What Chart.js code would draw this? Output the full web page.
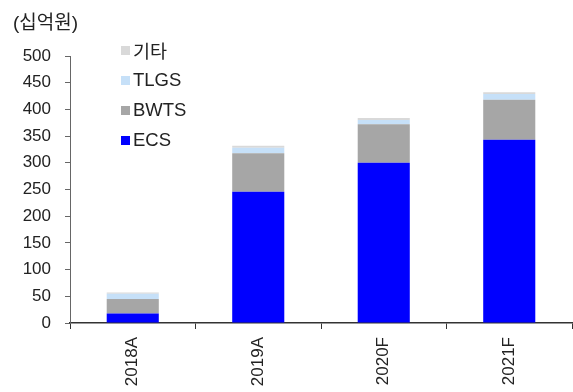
<!DOCTYPE html>
<html><head><meta charset="utf-8">
<script src="https://cdn.jsdelivr.net/npm/chart.js@4"></script>
<style>
html,body{margin:0;padding:0;background:#fff;}
#wrap{position:relative;width:573px;height:392px;font-family:"Liberation Sans","Noto Sans CJK KR",sans-serif;color:#222;}
canvas{position:absolute;left:0;top:0;}
#unit{position:absolute;left:13px;top:7px;font-size:19px;}
#legend{position:absolute;left:121px;top:35px;font-size:18.5px;}
.li{height:30px;display:flex;align-items:center;}
.sw{width:9px;height:9px;margin-right:3px;}
</style></head>
<body><div id="wrap"><canvas id="c" width="573" height="392"></canvas>
<div id="unit">(십억원)</div>
<div id="legend"></div></div>
<script>
const categories = ["2018A","2019A","2020F","2021F"];
const ecs  = [18, 246, 300, 343];
const bwts = [27, 72, 72, 75];
const tlgs = [10, 10, 8, 11];
const etc  = [2, 4, 4, 3];
const yTicks = [0,50,100,150,200,250,300,350,400,450,500];
const seriesNames = ["ECS","BWTS","TLGS","기타"];
const colors = ["#0000FF","#A6A6A6","#C6E0F8","#D9D9D9"];

const font = {family:'"Liberation Sans","Noto Sans CJK KR",sans-serif', size:17};
const datasets = [ecs,bwts,tlgs,etc].map((d,i)=>({
  label: seriesNames[i], data: d, backgroundColor: colors[i],
  borderWidth: 0, barPercentage: 0.83, categoryPercentage: 0.5
}));

const lg = document.getElementById('legend');
for (let i = seriesNames.length-1; i >= 0; i--) {
  const row = document.createElement('div'); row.className='li';
  row.innerHTML = '<div class="sw" style="background:'+colors[i]+'"></div><span>'+seriesNames[i]+'</span>';
  lg.appendChild(row);
}

new Chart(document.getElementById('c'), {
  type: 'bar',
  data: { labels: categories, datasets },
  options: {
    responsive: false, animation: false,
    layout: { padding: { top: 56, right: 1, left: 0, bottom: 0 } },
    plugins: { legend: { display: false }, tooltip: { enabled: false } },
    scales: {
      x: {
        stacked: true,
        grid: { display: true, offset: true, drawOnChartArea: false, drawTicks: true, tickLength: 6, color: '#333' },
        border: { display: true, color: '#333', width: 1.5 },
        ticks: { font, color: '#222', minRotation: 90, maxRotation: 90, padding: 8 },
        afterFit: s => { s.height = 69; }
      },
      y: {
        stacked: true, min: 0, max: 500,
        afterBuildTicks: s => { s.ticks = yTicks.map(v => ({ value: v })); },
        grid: { display: true, drawOnChartArea: false, drawTicks: true, tickLength: 5, color: '#666' },
        border: { display: true, color: '#666', width: 1 },
        ticks: { font, color: '#222', padding: 14 },
        afterFit: s => { s.width = 70; }
      }
    }
  }
});
</script></body></html>
